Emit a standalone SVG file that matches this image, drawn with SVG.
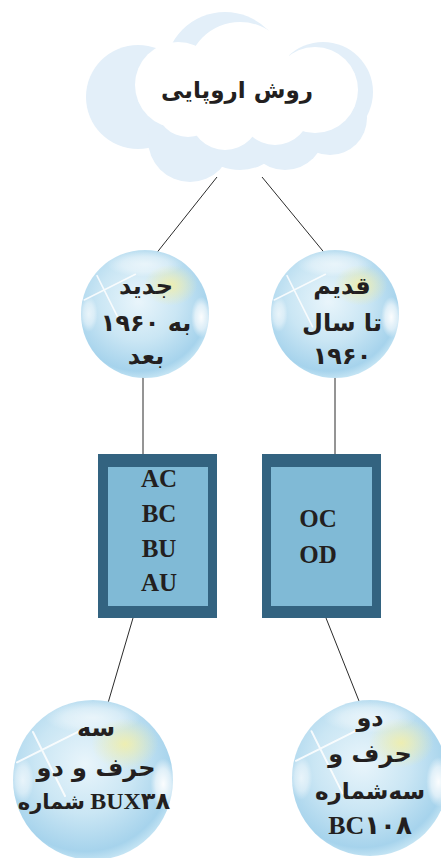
<svg xmlns="http://www.w3.org/2000/svg" width="441" height="858" viewBox="0 0 441 858">
<style>
.fa{font-family:"DejaVu Sans",sans-serif;font-weight:bold;font-size:24px;fill:#231f20;text-anchor:middle}
.lat{font-family:"Liberation Serif","DejaVu Sans",serif;font-weight:bold;font-size:25px;fill:#231f20;text-anchor:middle}
.mix{font-family:"Liberation Serif","DejaVu Sans",serif;font-weight:bold;font-size:22px;fill:#231f20;text-anchor:middle}
.ln{stroke:#2b2b2b;stroke-width:1;fill:none}
.box-o{fill:#336380}
.box-i{fill:#80bad6}
</style>
<defs>
<radialGradient id="bg" cx="0.45" cy="0.4" r="0.62">
<stop offset="0" stop-color="#e9f5fb"/>
<stop offset="0.5" stop-color="#cae6f4"/>
<stop offset="0.88" stop-color="#a6d3ec"/>
<stop offset="1" stop-color="#c9e7f5"/>
</radialGradient>
<radialGradient id="yg" cx="0.5" cy="0.5" r="0.5">
<stop offset="0" stop-color="#f3efa6" stop-opacity="0.85"/>
<stop offset="1" stop-color="#f3efa6" stop-opacity="0"/>
</radialGradient>
<radialGradient id="wg" cx="0.5" cy="0.5" r="0.5">
<stop offset="0" stop-color="#ffffff" stop-opacity="0.95"/>
<stop offset="0.6" stop-color="#ffffff" stop-opacity="0.6"/>
<stop offset="1" stop-color="#ffffff" stop-opacity="0"/>
</radialGradient>
<g id="bubble">
<circle r="100" fill="url(#bg)"/>
<ellipse cx="0" cy="-78" rx="60" ry="20" fill="url(#wg)" opacity="0.6"/>
<ellipse cx="40" cy="-45" rx="42" ry="32" fill="url(#yg)"/>
<ellipse cx="88" cy="5" rx="16" ry="32" fill="url(#wg)"/>
<ellipse cx="-88" cy="0" rx="14" ry="28" fill="url(#wg)" opacity="0.7"/>
<path d="M-95 -22 L-15 -62 M-75 -60 L-35 20" stroke="#ffffff" stroke-width="2.5" stroke-linecap="round" opacity="0.85"/>
</g>
</defs>
<g id="connectors">
<line class="ln" x1="217" y1="177" x2="155" y2="255"/>
<line class="ln" x1="262" y1="177" x2="327" y2="256"/>
<line class="ln" x1="143" y1="377" x2="143" y2="454"/>
<line class="ln" x1="335" y1="377" x2="335" y2="454"/>
<line class="ln" x1="133" y1="618" x2="108" y2="703"/>
<line class="ln" x1="326" y1="618" x2="359" y2="701"/>
</g>
<g id="cloud">
<g fill="#e3eff9">
<circle cx="138" cy="97" r="52"/>
<circle cx="225" cy="72" r="60"/>
<circle cx="323" cy="92" r="50"/>
<circle cx="190" cy="140" r="42"/>
<circle cx="285" cy="130" r="40"/>
<circle cx="330" cy="118" r="37"/>
<circle cx="240" cy="120" r="50"/>
</g>
<g fill="#ffffff">
<circle cx="178" cy="85" r="43"/>
<circle cx="240" cy="75" r="53"/>
<circle cx="315" cy="90" r="43"/>
<circle cx="225" cy="115" r="35"/>
<circle cx="275" cy="110" r="35"/>
<circle cx="188" cy="105" r="32"/>
</g>
<text class="fa" x="237" y="98" style="font-size:23px">روش اروپایی</text>
</g>
<g id="new">
<use href="#bubble" transform="translate(145,314) scale(0.64)"/>
<text class="fa" x="146" y="294">جدید</text>
<text class="fa" x="146" y="331">۱۹۶۰ به</text>
<text class="fa" x="146" y="364">بعد</text>
</g>
<g id="old">
<use href="#bubble" transform="translate(335,314) scale(0.64)"/>
<text class="fa" x="342" y="294">قدیم</text>
<text class="fa" x="342" y="331">تا سال</text>
<text class="fa" x="342" y="364">۱۹۶۰</text>
</g>
<g id="box-new">
<rect class="box-o" x="98" y="454" width="119" height="164"/>
<rect class="box-i" x="108" y="467" width="100" height="139"/>
<text class="lat" x="159" y="487">AC</text>
<text class="lat" x="159" y="522">BC</text>
<text class="lat" x="159" y="557">BU</text>
<text class="lat" x="159" y="591">AU</text>
</g>
<g id="box-old">
<rect class="box-o" x="262" y="454" width="119" height="164"/>
<rect class="box-i" x="271" y="467" width="101" height="139"/>
<text class="lat" x="318" y="527">OC</text>
<text class="lat" x="318" y="563">OD</text>
</g>
<g id="three-two">
<use href="#bubble" transform="translate(93,780) scale(0.8)"/>
<text class="fa" x="96" y="736">سه</text>
<text class="fa" x="96" y="776">حرف و دو</text>
<text class="mix" x="94" y="809" style="font-size:21px">شماره <tspan style="font-size:24px">BUX۳۸</tspan></text>
</g>
<g id="two-three">
<use href="#bubble" transform="translate(370,778) scale(0.78)"/>
<text class="fa" x="370" y="726">دو</text>
<text class="fa" x="370" y="762">حرف و</text>
<text class="fa" x="370" y="799" style="font-size:23px">سه‌شماره</text>
<text class="mix" x="370" y="834" style="font-size:26px">BC۱۰۸</text>
</g>
</svg>
